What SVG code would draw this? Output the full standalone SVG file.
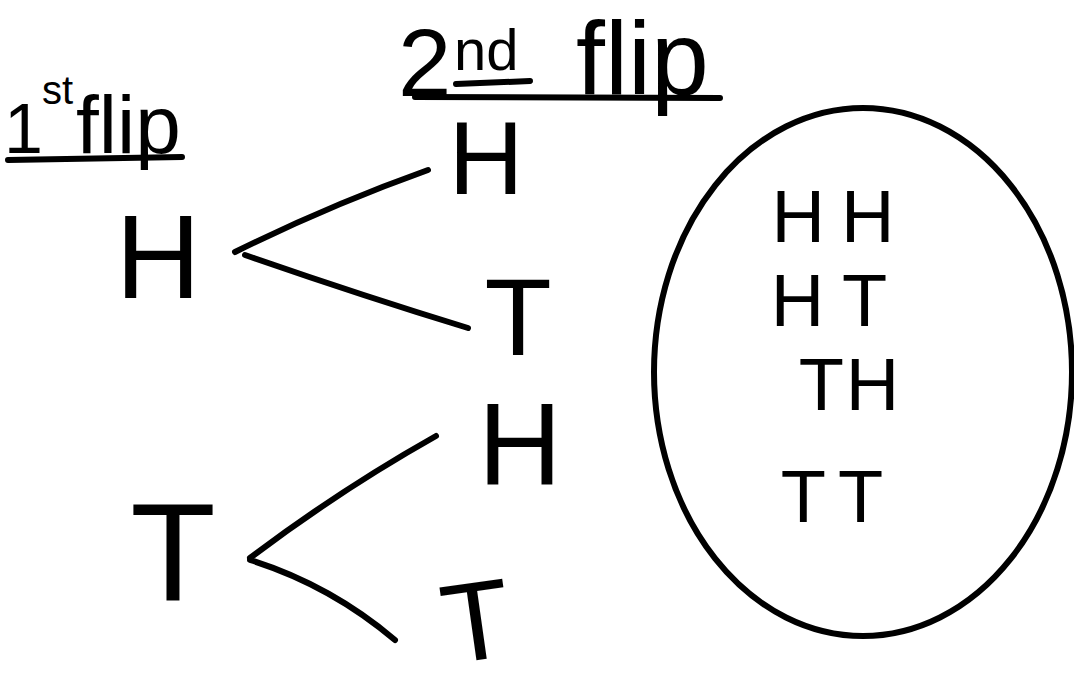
<svg xmlns="http://www.w3.org/2000/svg" width="1074" height="686" viewBox="0 0 1074 686">
<style>
.t{font-family:"Liberation Sans",Arial,sans-serif;fill:#000;text-anchor:middle}
.h{font-family:"Liberation Sans",Arial,sans-serif;fill:#000}
.pen{fill:none;stroke:#000;stroke-width:6;stroke-linecap:round;stroke-linejoin:round}
</style>
<rect width="1074" height="686" fill="#fff"/>
<g id="header-1st">
<text class="h" x="4" y="153" font-size="70">1</text>
<text class="h" x="42" y="104" font-size="40">st</text>
<text class="h" x="76" y="153" font-size="82">flip</text>
<path class="pen" d="M8,160 L182,157"/>
</g>
<g id="header-2nd">
<text class="h" x="398" y="96" font-size="96">2</text>
<text class="h" x="454" y="70" font-size="58">nd</text>
<path class="pen" d="M456,84 L530,81"/>
<text class="h" x="576" y="94" font-size="104">flip</text>
<path class="pen" d="M415,97 L720,98"/>
</g>
<g id="node-H1"><text class="t" x="158" y="298" font-size="118">H</text></g>
<g id="node-T1"><text class="t" x="173" y="600" font-size="140">T</text></g>
<g id="node-HH"><text class="t" x="486" y="194" font-size="104">H</text></g>
<g id="node-HT"><text class="t" x="518" y="355" font-size="110">T</text></g>
<g id="node-TH"><text class="t" x="520" y="484" font-size="116">H</text></g>
<g id="node-TT"><text class="t" x="476" y="660" font-size="112" transform="rotate(-8 476 620)">T</text></g>
<g id="outcomes">
<ellipse class="pen" cx="863" cy="372" rx="209" ry="264"/>
<text class="t" x="841" y="242" font-size="74" letter-spacing="16">HH</text>
<text class="t" x="838" y="326" font-size="74" letter-spacing="18">HT</text>
<text class="t" x="850" y="410" font-size="74" letter-spacing="2">TH</text>
<text class="t" x="838" y="522" font-size="74" letter-spacing="12">TT</text>
</g>
<g id="connectors">
<path class="pen" d="M235,252 Q330,205 428,170"/>
<path class="pen" d="M245,255 Q360,295 468,328"/>
<path class="pen" d="M250,558 Q340,490 436,436"/>
<path class="pen" d="M250,560 Q330,585 395,640"/>
</g>
</svg>
